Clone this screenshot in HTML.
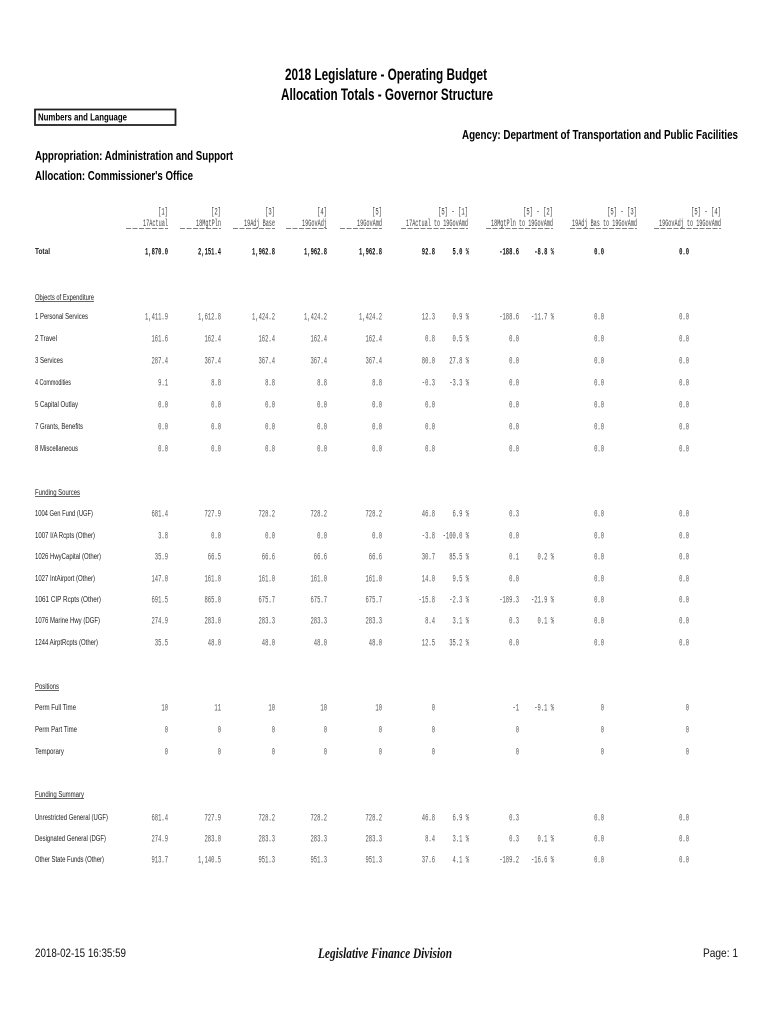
<!DOCTYPE html>
<html>
<head>
<meta charset="utf-8">
<style>
html,body{margin:0;padding:0;background:#fff;}
svg{display:block;}
.t{font-family:"Liberation Sans",sans-serif;font-weight:bold;fill:#000;}
.lab{font-family:"Liberation Sans",sans-serif;font-size:8px;fill:#222;}
.v{font-family:"Liberation Mono",monospace;font-size:10px;fill:#555;}
.vt{font-family:"Liberation Mono",monospace;font-size:10px;fill:#111;font-weight:bold;}
.h{font-family:"Liberation Mono",monospace;font-size:10px;fill:#444;}
</style>
</head>
<body>
<svg width="770" height="1024" viewBox="0 0 770 1024" xmlns="http://www.w3.org/2000/svg">
<rect width="770" height="1024" fill="#fff"/>

<!-- Titles -->
<text class="t" x="285" y="80" font-size="16.5" textLength="202" lengthAdjust="spacingAndGlyphs">2018 Legislature - Operating Budget</text>
<text class="t" x="281" y="100" font-size="16.5" textLength="212" lengthAdjust="spacingAndGlyphs">Allocation Totals - Governor Structure</text>

<rect x="35" y="109.5" width="140.5" height="15.5" fill="none" stroke="#222" stroke-width="1.8"/>
<text class="t" x="38" y="120.5" font-size="10" textLength="89" lengthAdjust="spacingAndGlyphs">Numbers and Language</text>

<text class="t" x="738" y="139" font-size="12.5" text-anchor="end" textLength="276" lengthAdjust="spacingAndGlyphs">Agency: Department of Transportation and Public Facilities</text>

<text class="t" x="35" y="160" font-size="13" textLength="198" lengthAdjust="spacingAndGlyphs">Appropriation: Administration and Support</text>
<text class="t" x="35" y="180" font-size="13" textLength="158" lengthAdjust="spacingAndGlyphs">Allocation: Commissioner's Office</text>

<!-- Column headers -->
<g text-anchor="end">
<text class="h" x="168" y="214.5" textLength="10" lengthAdjust="spacingAndGlyphs">[1]</text>
<text class="h" x="221" y="214.5" textLength="10" lengthAdjust="spacingAndGlyphs">[2]</text>
<text class="h" x="275" y="214.5" textLength="10" lengthAdjust="spacingAndGlyphs">[3]</text>
<text class="h" x="327" y="214.5" textLength="10" lengthAdjust="spacingAndGlyphs">[4]</text>
<text class="h" x="382" y="214.5" textLength="10" lengthAdjust="spacingAndGlyphs">[5]</text>
<text class="h" x="468" y="214.5" textLength="30" lengthAdjust="spacingAndGlyphs">[5] - [1]</text>
<text class="h" x="553" y="214.5" textLength="30" lengthAdjust="spacingAndGlyphs">[5] - [2]</text>
<text class="h" x="637" y="214.5" textLength="30" lengthAdjust="spacingAndGlyphs">[5] - [3]</text>
<text class="h" x="721" y="214.5" textLength="30" lengthAdjust="spacingAndGlyphs">[5] - [4]</text>

<text class="h" x="168" y="226" textLength="25" lengthAdjust="spacingAndGlyphs">17Actual</text>
<text class="h" x="221" y="226" textLength="25" lengthAdjust="spacingAndGlyphs">18MgtPln</text>
<text class="h" x="275" y="226" textLength="31" lengthAdjust="spacingAndGlyphs">19Adj Base</text>
<text class="h" x="327" y="226" textLength="25" lengthAdjust="spacingAndGlyphs">19GovAdj</text>
<text class="h" x="382" y="226" textLength="25" lengthAdjust="spacingAndGlyphs">19GovAmd</text>
<text class="h" x="468" y="226" textLength="62" lengthAdjust="spacingAndGlyphs">17Actual to 19GovAmd</text>
<text class="h" x="553" y="226" textLength="62" lengthAdjust="spacingAndGlyphs">18MgtPln to 19GovAmd</text>
<text class="h" x="637" y="226" textLength="65" lengthAdjust="spacingAndGlyphs">19Adj Bas to 19GovAmd</text>
<text class="h" x="721" y="226" textLength="62" lengthAdjust="spacingAndGlyphs">19GovAdj to 19GovAmd</text>
</g>
<g stroke="#555" stroke-width="0.8" stroke-dasharray="5 1.5">
<line x1="126" y1="228.5" x2="168" y2="228.5"/>
<line x1="180" y1="228.5" x2="221" y2="228.5"/>
<line x1="233" y1="228.5" x2="275" y2="228.5"/>
<line x1="286" y1="228.5" x2="327" y2="228.5"/>
<line x1="340" y1="228.5" x2="382" y2="228.5"/>
<line x1="401" y1="228.5" x2="468" y2="228.5"/>
<line x1="486" y1="228.5" x2="553" y2="228.5"/>
<line x1="570" y1="228.5" x2="637" y2="228.5"/>
<line x1="654" y1="228.5" x2="721" y2="228.5"/>
</g>

<!-- Total row -->
<text class="lab" x="35" y="254" font-weight="bold" textLength="15" lengthAdjust="spacingAndGlyphs">Total</text>
<g text-anchor="end">
<text class="vt" x="168" y="254.5" textLength="23" lengthAdjust="spacingAndGlyphs">1,870.0</text>
<text class="vt" x="221" y="254.5" textLength="23" lengthAdjust="spacingAndGlyphs">2,151.4</text>
<text class="vt" x="275" y="254.5" textLength="23" lengthAdjust="spacingAndGlyphs">1,962.8</text>
<text class="vt" x="327" y="254.5" textLength="23" lengthAdjust="spacingAndGlyphs">1,962.8</text>
<text class="vt" x="382" y="254.5" textLength="23" lengthAdjust="spacingAndGlyphs">1,962.8</text>
<text class="vt" x="435" y="254.5" textLength="13.2" lengthAdjust="spacingAndGlyphs">92.8</text>
<text class="vt" x="469" y="254.5" textLength="16.5" lengthAdjust="spacingAndGlyphs">5.0 %</text>
<text class="vt" x="519" y="254.5" textLength="19.8" lengthAdjust="spacingAndGlyphs">-188.6</text>
<text class="vt" x="554" y="254.5" textLength="19.8" lengthAdjust="spacingAndGlyphs">-8.8 %</text>
<text class="vt" x="604" y="254.5" textLength="9.9" lengthAdjust="spacingAndGlyphs">0.0</text>
<text class="vt" x="689" y="254.5" textLength="9.9" lengthAdjust="spacingAndGlyphs">0.0</text>
</g>

<!-- Objects of Expenditure -->
<text class="lab" x="35" y="300" textLength="59" lengthAdjust="spacingAndGlyphs">Objects of Expenditure</text>
<line x1="35" y1="301.5" x2="94" y2="301.5" stroke="#333" stroke-width="0.7"/>

<text class="lab" x="35" y="319" textLength="53" lengthAdjust="spacingAndGlyphs">1 Personal Services</text>
<text class="lab" x="35" y="341" textLength="22" lengthAdjust="spacingAndGlyphs">2 Travel</text>
<text class="lab" x="35" y="363" textLength="28" lengthAdjust="spacingAndGlyphs">3 Services</text>
<text class="lab" x="35" y="385" textLength="36" lengthAdjust="spacingAndGlyphs">4 Commodities</text>
<text class="lab" x="35" y="407" textLength="43" lengthAdjust="spacingAndGlyphs">5 Capital Outlay</text>
<text class="lab" x="35" y="429" textLength="48" lengthAdjust="spacingAndGlyphs">7 Grants, Benefits</text>
<text class="lab" x="35" y="451" textLength="43" lengthAdjust="spacingAndGlyphs">8 Miscellaneous</text>

<g text-anchor="end">
<!-- Personal Services y=319.5 -->
<text class="v" x="168" y="319.5" textLength="23" lengthAdjust="spacingAndGlyphs">1,411.9</text>
<text class="v" x="221" y="319.5" textLength="23" lengthAdjust="spacingAndGlyphs">1,612.8</text>
<text class="v" x="275" y="319.5" textLength="23" lengthAdjust="spacingAndGlyphs">1,424.2</text>
<text class="v" x="327" y="319.5" textLength="23" lengthAdjust="spacingAndGlyphs">1,424.2</text>
<text class="v" x="382" y="319.5" textLength="23" lengthAdjust="spacingAndGlyphs">1,424.2</text>
<text class="v" x="435" y="319.5" textLength="13.2" lengthAdjust="spacingAndGlyphs">12.3</text>
<text class="v" x="469" y="319.5" textLength="16.5" lengthAdjust="spacingAndGlyphs">0.9 %</text>
<text class="v" x="519" y="319.5" textLength="19.8" lengthAdjust="spacingAndGlyphs">-188.6</text>
<text class="v" x="554" y="319.5" textLength="23" lengthAdjust="spacingAndGlyphs">-11.7 %</text>
<text class="v" x="604" y="319.5" textLength="9.9" lengthAdjust="spacingAndGlyphs">0.0</text>
<text class="v" x="689" y="319.5" textLength="9.9" lengthAdjust="spacingAndGlyphs">0.0</text>
<!-- Travel y=341.5 -->
<text class="v" x="168" y="341.5" textLength="16.5" lengthAdjust="spacingAndGlyphs">161.6</text>
<text class="v" x="221" y="341.5" textLength="16.5" lengthAdjust="spacingAndGlyphs">162.4</text>
<text class="v" x="275" y="341.5" textLength="16.5" lengthAdjust="spacingAndGlyphs">162.4</text>
<text class="v" x="327" y="341.5" textLength="16.5" lengthAdjust="spacingAndGlyphs">162.4</text>
<text class="v" x="382" y="341.5" textLength="16.5" lengthAdjust="spacingAndGlyphs">162.4</text>
<text class="v" x="435" y="341.5" textLength="9.9" lengthAdjust="spacingAndGlyphs">0.8</text>
<text class="v" x="469" y="341.5" textLength="16.5" lengthAdjust="spacingAndGlyphs">0.5 %</text>
<text class="v" x="519" y="341.5" textLength="9.9" lengthAdjust="spacingAndGlyphs">0.0</text>
<text class="v" x="604" y="341.5" textLength="9.9" lengthAdjust="spacingAndGlyphs">0.0</text>
<text class="v" x="689" y="341.5" textLength="9.9" lengthAdjust="spacingAndGlyphs">0.0</text>
<!-- Services y=363.5 -->
<text class="v" x="168" y="363.5" textLength="16.5" lengthAdjust="spacingAndGlyphs">287.4</text>
<text class="v" x="221" y="363.5" textLength="16.5" lengthAdjust="spacingAndGlyphs">367.4</text>
<text class="v" x="275" y="363.5" textLength="16.5" lengthAdjust="spacingAndGlyphs">367.4</text>
<text class="v" x="327" y="363.5" textLength="16.5" lengthAdjust="spacingAndGlyphs">367.4</text>
<text class="v" x="382" y="363.5" textLength="16.5" lengthAdjust="spacingAndGlyphs">367.4</text>
<text class="v" x="435" y="363.5" textLength="13.2" lengthAdjust="spacingAndGlyphs">80.0</text>
<text class="v" x="469" y="363.5" textLength="19.8" lengthAdjust="spacingAndGlyphs">27.8 %</text>
<text class="v" x="519" y="363.5" textLength="9.9" lengthAdjust="spacingAndGlyphs">0.0</text>
<text class="v" x="604" y="363.5" textLength="9.9" lengthAdjust="spacingAndGlyphs">0.0</text>
<text class="v" x="689" y="363.5" textLength="9.9" lengthAdjust="spacingAndGlyphs">0.0</text>
<!-- Commodities y=385.5 -->
<text class="v" x="168" y="385.5" textLength="9.9" lengthAdjust="spacingAndGlyphs">9.1</text>
<text class="v" x="221" y="385.5" textLength="9.9" lengthAdjust="spacingAndGlyphs">8.8</text>
<text class="v" x="275" y="385.5" textLength="9.9" lengthAdjust="spacingAndGlyphs">8.8</text>
<text class="v" x="327" y="385.5" textLength="9.9" lengthAdjust="spacingAndGlyphs">8.8</text>
<text class="v" x="382" y="385.5" textLength="9.9" lengthAdjust="spacingAndGlyphs">8.8</text>
<text class="v" x="435" y="385.5" textLength="13.2" lengthAdjust="spacingAndGlyphs">-0.3</text>
<text class="v" x="469" y="385.5" textLength="19.8" lengthAdjust="spacingAndGlyphs">-3.3 %</text>
<text class="v" x="519" y="385.5" textLength="9.9" lengthAdjust="spacingAndGlyphs">0.0</text>
<text class="v" x="604" y="385.5" textLength="9.9" lengthAdjust="spacingAndGlyphs">0.0</text>
<text class="v" x="689" y="385.5" textLength="9.9" lengthAdjust="spacingAndGlyphs">0.0</text>
<!-- Capital Outlay y=407.5 -->
<text class="v" x="168" y="407.5" textLength="9.9" lengthAdjust="spacingAndGlyphs">0.0</text>
<text class="v" x="221" y="407.5" textLength="9.9" lengthAdjust="spacingAndGlyphs">0.0</text>
<text class="v" x="275" y="407.5" textLength="9.9" lengthAdjust="spacingAndGlyphs">0.0</text>
<text class="v" x="327" y="407.5" textLength="9.9" lengthAdjust="spacingAndGlyphs">0.0</text>
<text class="v" x="382" y="407.5" textLength="9.9" lengthAdjust="spacingAndGlyphs">0.0</text>
<text class="v" x="435" y="407.5" textLength="9.9" lengthAdjust="spacingAndGlyphs">0.0</text>
<text class="v" x="519" y="407.5" textLength="9.9" lengthAdjust="spacingAndGlyphs">0.0</text>
<text class="v" x="604" y="407.5" textLength="9.9" lengthAdjust="spacingAndGlyphs">0.0</text>
<text class="v" x="689" y="407.5" textLength="9.9" lengthAdjust="spacingAndGlyphs">0.0</text>
<!-- Grants y=429.5 -->
<text class="v" x="168" y="429.5" textLength="9.9" lengthAdjust="spacingAndGlyphs">0.0</text>
<text class="v" x="221" y="429.5" textLength="9.9" lengthAdjust="spacingAndGlyphs">0.0</text>
<text class="v" x="275" y="429.5" textLength="9.9" lengthAdjust="spacingAndGlyphs">0.0</text>
<text class="v" x="327" y="429.5" textLength="9.9" lengthAdjust="spacingAndGlyphs">0.0</text>
<text class="v" x="382" y="429.5" textLength="9.9" lengthAdjust="spacingAndGlyphs">0.0</text>
<text class="v" x="435" y="429.5" textLength="9.9" lengthAdjust="spacingAndGlyphs">0.0</text>
<text class="v" x="519" y="429.5" textLength="9.9" lengthAdjust="spacingAndGlyphs">0.0</text>
<text class="v" x="604" y="429.5" textLength="9.9" lengthAdjust="spacingAndGlyphs">0.0</text>
<text class="v" x="689" y="429.5" textLength="9.9" lengthAdjust="spacingAndGlyphs">0.0</text>
<!-- Misc y=451.5 -->
<text class="v" x="168" y="451.5" textLength="9.9" lengthAdjust="spacingAndGlyphs">0.0</text>
<text class="v" x="221" y="451.5" textLength="9.9" lengthAdjust="spacingAndGlyphs">0.0</text>
<text class="v" x="275" y="451.5" textLength="9.9" lengthAdjust="spacingAndGlyphs">0.0</text>
<text class="v" x="327" y="451.5" textLength="9.9" lengthAdjust="spacingAndGlyphs">0.0</text>
<text class="v" x="382" y="451.5" textLength="9.9" lengthAdjust="spacingAndGlyphs">0.0</text>
<text class="v" x="435" y="451.5" textLength="9.9" lengthAdjust="spacingAndGlyphs">0.0</text>
<text class="v" x="519" y="451.5" textLength="9.9" lengthAdjust="spacingAndGlyphs">0.0</text>
<text class="v" x="604" y="451.5" textLength="9.9" lengthAdjust="spacingAndGlyphs">0.0</text>
<text class="v" x="689" y="451.5" textLength="9.9" lengthAdjust="spacingAndGlyphs">0.0</text>
</g>

<!-- Funding Sources -->
<text class="lab" x="35" y="495" textLength="45" lengthAdjust="spacingAndGlyphs">Funding Sources</text>
<line x1="35" y1="496.5" x2="80" y2="496.5" stroke="#333" stroke-width="0.7"/>

<text class="lab" x="35" y="516" textLength="58" lengthAdjust="spacingAndGlyphs">1004 Gen Fund (UGF)</text>
<text class="lab" x="35" y="538" textLength="60" lengthAdjust="spacingAndGlyphs">1007 I/A Rcpts (Other)</text>
<text class="lab" x="35" y="559" textLength="66" lengthAdjust="spacingAndGlyphs">1026 HwyCapital (Other)</text>
<text class="lab" x="35" y="581" textLength="60" lengthAdjust="spacingAndGlyphs">1027 IntAirport (Other)</text>
<text class="lab" x="35" y="602" textLength="66" lengthAdjust="spacingAndGlyphs">1061 CIP Rcpts (Other)</text>
<text class="lab" x="35" y="623" textLength="65" lengthAdjust="spacingAndGlyphs">1076 Marine Hwy (DGF)</text>
<text class="lab" x="35" y="645" textLength="63" lengthAdjust="spacingAndGlyphs">1244 AirptRcpts (Other)</text>

<g text-anchor="end">
<!-- 1004 y=516.5 -->
<text class="v" x="168" y="516.5" textLength="16.5" lengthAdjust="spacingAndGlyphs">681.4</text>
<text class="v" x="221" y="516.5" textLength="16.5" lengthAdjust="spacingAndGlyphs">727.9</text>
<text class="v" x="275" y="516.5" textLength="16.5" lengthAdjust="spacingAndGlyphs">728.2</text>
<text class="v" x="327" y="516.5" textLength="16.5" lengthAdjust="spacingAndGlyphs">728.2</text>
<text class="v" x="382" y="516.5" textLength="16.5" lengthAdjust="spacingAndGlyphs">728.2</text>
<text class="v" x="435" y="516.5" textLength="13.2" lengthAdjust="spacingAndGlyphs">46.8</text>
<text class="v" x="469" y="516.5" textLength="16.5" lengthAdjust="spacingAndGlyphs">6.9 %</text>
<text class="v" x="519" y="516.5" textLength="9.9" lengthAdjust="spacingAndGlyphs">0.3</text>
<text class="v" x="604" y="516.5" textLength="9.9" lengthAdjust="spacingAndGlyphs">0.0</text>
<text class="v" x="689" y="516.5" textLength="9.9" lengthAdjust="spacingAndGlyphs">0.0</text>
<!-- 1007 y=538.5 -->
<text class="v" x="168" y="538.5" textLength="9.9" lengthAdjust="spacingAndGlyphs">3.8</text>
<text class="v" x="221" y="538.5" textLength="9.9" lengthAdjust="spacingAndGlyphs">0.0</text>
<text class="v" x="275" y="538.5" textLength="9.9" lengthAdjust="spacingAndGlyphs">0.0</text>
<text class="v" x="327" y="538.5" textLength="9.9" lengthAdjust="spacingAndGlyphs">0.0</text>
<text class="v" x="382" y="538.5" textLength="9.9" lengthAdjust="spacingAndGlyphs">0.0</text>
<text class="v" x="435" y="538.5" textLength="13.2" lengthAdjust="spacingAndGlyphs">-3.8</text>
<text class="v" x="469" y="538.5" textLength="26.4" lengthAdjust="spacingAndGlyphs">-100.0 %</text>
<text class="v" x="519" y="538.5" textLength="9.9" lengthAdjust="spacingAndGlyphs">0.0</text>
<text class="v" x="604" y="538.5" textLength="9.9" lengthAdjust="spacingAndGlyphs">0.0</text>
<text class="v" x="689" y="538.5" textLength="9.9" lengthAdjust="spacingAndGlyphs">0.0</text>
<!-- 1026 y=559.5 -->
<text class="v" x="168" y="559.5" textLength="13.2" lengthAdjust="spacingAndGlyphs">35.9</text>
<text class="v" x="221" y="559.5" textLength="13.2" lengthAdjust="spacingAndGlyphs">66.5</text>
<text class="v" x="275" y="559.5" textLength="13.2" lengthAdjust="spacingAndGlyphs">66.6</text>
<text class="v" x="327" y="559.5" textLength="13.2" lengthAdjust="spacingAndGlyphs">66.6</text>
<text class="v" x="382" y="559.5" textLength="13.2" lengthAdjust="spacingAndGlyphs">66.6</text>
<text class="v" x="435" y="559.5" textLength="13.2" lengthAdjust="spacingAndGlyphs">30.7</text>
<text class="v" x="469" y="559.5" textLength="19.8" lengthAdjust="spacingAndGlyphs">85.5 %</text>
<text class="v" x="519" y="559.5" textLength="9.9" lengthAdjust="spacingAndGlyphs">0.1</text>
<text class="v" x="554" y="559.5" textLength="16.5" lengthAdjust="spacingAndGlyphs">0.2 %</text>
<text class="v" x="604" y="559.5" textLength="9.9" lengthAdjust="spacingAndGlyphs">0.0</text>
<text class="v" x="689" y="559.5" textLength="9.9" lengthAdjust="spacingAndGlyphs">0.0</text>
<!-- 1027 y=581.5 -->
<text class="v" x="168" y="581.5" textLength="16.5" lengthAdjust="spacingAndGlyphs">147.0</text>
<text class="v" x="221" y="581.5" textLength="16.5" lengthAdjust="spacingAndGlyphs">161.0</text>
<text class="v" x="275" y="581.5" textLength="16.5" lengthAdjust="spacingAndGlyphs">161.0</text>
<text class="v" x="327" y="581.5" textLength="16.5" lengthAdjust="spacingAndGlyphs">161.0</text>
<text class="v" x="382" y="581.5" textLength="16.5" lengthAdjust="spacingAndGlyphs">161.0</text>
<text class="v" x="435" y="581.5" textLength="13.2" lengthAdjust="spacingAndGlyphs">14.0</text>
<text class="v" x="469" y="581.5" textLength="16.5" lengthAdjust="spacingAndGlyphs">9.5 %</text>
<text class="v" x="519" y="581.5" textLength="9.9" lengthAdjust="spacingAndGlyphs">0.0</text>
<text class="v" x="604" y="581.5" textLength="9.9" lengthAdjust="spacingAndGlyphs">0.0</text>
<text class="v" x="689" y="581.5" textLength="9.9" lengthAdjust="spacingAndGlyphs">0.0</text>
<!-- 1061 y=602.5 -->
<text class="v" x="168" y="602.5" textLength="16.5" lengthAdjust="spacingAndGlyphs">691.5</text>
<text class="v" x="221" y="602.5" textLength="16.5" lengthAdjust="spacingAndGlyphs">865.0</text>
<text class="v" x="275" y="602.5" textLength="16.5" lengthAdjust="spacingAndGlyphs">675.7</text>
<text class="v" x="327" y="602.5" textLength="16.5" lengthAdjust="spacingAndGlyphs">675.7</text>
<text class="v" x="382" y="602.5" textLength="16.5" lengthAdjust="spacingAndGlyphs">675.7</text>
<text class="v" x="435" y="602.5" textLength="16.5" lengthAdjust="spacingAndGlyphs">-15.8</text>
<text class="v" x="469" y="602.5" textLength="19.8" lengthAdjust="spacingAndGlyphs">-2.3 %</text>
<text class="v" x="519" y="602.5" textLength="19.8" lengthAdjust="spacingAndGlyphs">-189.3</text>
<text class="v" x="554" y="602.5" textLength="23" lengthAdjust="spacingAndGlyphs">-21.9 %</text>
<text class="v" x="604" y="602.5" textLength="9.9" lengthAdjust="spacingAndGlyphs">0.0</text>
<text class="v" x="689" y="602.5" textLength="9.9" lengthAdjust="spacingAndGlyphs">0.0</text>
<!-- 1076 y=623.5 -->
<text class="v" x="168" y="623.5" textLength="16.5" lengthAdjust="spacingAndGlyphs">274.9</text>
<text class="v" x="221" y="623.5" textLength="16.5" lengthAdjust="spacingAndGlyphs">283.0</text>
<text class="v" x="275" y="623.5" textLength="16.5" lengthAdjust="spacingAndGlyphs">283.3</text>
<text class="v" x="327" y="623.5" textLength="16.5" lengthAdjust="spacingAndGlyphs">283.3</text>
<text class="v" x="382" y="623.5" textLength="16.5" lengthAdjust="spacingAndGlyphs">283.3</text>
<text class="v" x="435" y="623.5" textLength="9.9" lengthAdjust="spacingAndGlyphs">8.4</text>
<text class="v" x="469" y="623.5" textLength="16.5" lengthAdjust="spacingAndGlyphs">3.1 %</text>
<text class="v" x="519" y="623.5" textLength="9.9" lengthAdjust="spacingAndGlyphs">0.3</text>
<text class="v" x="554" y="623.5" textLength="16.5" lengthAdjust="spacingAndGlyphs">0.1 %</text>
<text class="v" x="604" y="623.5" textLength="9.9" lengthAdjust="spacingAndGlyphs">0.0</text>
<text class="v" x="689" y="623.5" textLength="9.9" lengthAdjust="spacingAndGlyphs">0.0</text>
<!-- 1244 y=645.5 -->
<text class="v" x="168" y="645.5" textLength="13.2" lengthAdjust="spacingAndGlyphs">35.5</text>
<text class="v" x="221" y="645.5" textLength="13.2" lengthAdjust="spacingAndGlyphs">48.0</text>
<text class="v" x="275" y="645.5" textLength="13.2" lengthAdjust="spacingAndGlyphs">48.0</text>
<text class="v" x="327" y="645.5" textLength="13.2" lengthAdjust="spacingAndGlyphs">48.0</text>
<text class="v" x="382" y="645.5" textLength="13.2" lengthAdjust="spacingAndGlyphs">48.0</text>
<text class="v" x="435" y="645.5" textLength="13.2" lengthAdjust="spacingAndGlyphs">12.5</text>
<text class="v" x="469" y="645.5" textLength="19.8" lengthAdjust="spacingAndGlyphs">35.2 %</text>
<text class="v" x="519" y="645.5" textLength="9.9" lengthAdjust="spacingAndGlyphs">0.0</text>
<text class="v" x="604" y="645.5" textLength="9.9" lengthAdjust="spacingAndGlyphs">0.0</text>
<text class="v" x="689" y="645.5" textLength="9.9" lengthAdjust="spacingAndGlyphs">0.0</text>
</g>

<!-- Positions -->
<text class="lab" x="35" y="689" textLength="24" lengthAdjust="spacingAndGlyphs">Positions</text>
<line x1="35" y1="690.5" x2="59" y2="690.5" stroke="#333" stroke-width="0.7"/>
<text class="lab" x="35" y="710" textLength="41" lengthAdjust="spacingAndGlyphs">Perm Full Time</text>
<text class="lab" x="35" y="732" textLength="42" lengthAdjust="spacingAndGlyphs">Perm Part Time</text>
<text class="lab" x="35" y="754" textLength="29" lengthAdjust="spacingAndGlyphs">Temporary</text>

<g text-anchor="end">
<text class="v" x="168" y="710.5" textLength="6.6" lengthAdjust="spacingAndGlyphs">10</text>
<text class="v" x="221" y="710.5" textLength="6.6" lengthAdjust="spacingAndGlyphs">11</text>
<text class="v" x="275" y="710.5" textLength="6.6" lengthAdjust="spacingAndGlyphs">10</text>
<text class="v" x="327" y="710.5" textLength="6.6" lengthAdjust="spacingAndGlyphs">10</text>
<text class="v" x="382" y="710.5" textLength="6.6" lengthAdjust="spacingAndGlyphs">10</text>
<text class="v" x="435" y="710.5" textLength="3.3" lengthAdjust="spacingAndGlyphs">0</text>
<text class="v" x="519" y="710.5" textLength="6.6" lengthAdjust="spacingAndGlyphs">-1</text>
<text class="v" x="554" y="710.5" textLength="19.8" lengthAdjust="spacingAndGlyphs">-9.1 %</text>
<text class="v" x="604" y="710.5" textLength="3.3" lengthAdjust="spacingAndGlyphs">0</text>
<text class="v" x="689" y="710.5" textLength="3.3" lengthAdjust="spacingAndGlyphs">0</text>

<text class="v" x="168" y="732.5" textLength="3.3" lengthAdjust="spacingAndGlyphs">0</text>
<text class="v" x="221" y="732.5" textLength="3.3" lengthAdjust="spacingAndGlyphs">0</text>
<text class="v" x="275" y="732.5" textLength="3.3" lengthAdjust="spacingAndGlyphs">0</text>
<text class="v" x="327" y="732.5" textLength="3.3" lengthAdjust="spacingAndGlyphs">0</text>
<text class="v" x="382" y="732.5" textLength="3.3" lengthAdjust="spacingAndGlyphs">0</text>
<text class="v" x="435" y="732.5" textLength="3.3" lengthAdjust="spacingAndGlyphs">0</text>
<text class="v" x="519" y="732.5" textLength="3.3" lengthAdjust="spacingAndGlyphs">0</text>
<text class="v" x="604" y="732.5" textLength="3.3" lengthAdjust="spacingAndGlyphs">0</text>
<text class="v" x="689" y="732.5" textLength="3.3" lengthAdjust="spacingAndGlyphs">0</text>

<text class="v" x="168" y="754.5" textLength="3.3" lengthAdjust="spacingAndGlyphs">0</text>
<text class="v" x="221" y="754.5" textLength="3.3" lengthAdjust="spacingAndGlyphs">0</text>
<text class="v" x="275" y="754.5" textLength="3.3" lengthAdjust="spacingAndGlyphs">0</text>
<text class="v" x="327" y="754.5" textLength="3.3" lengthAdjust="spacingAndGlyphs">0</text>
<text class="v" x="382" y="754.5" textLength="3.3" lengthAdjust="spacingAndGlyphs">0</text>
<text class="v" x="435" y="754.5" textLength="3.3" lengthAdjust="spacingAndGlyphs">0</text>
<text class="v" x="519" y="754.5" textLength="3.3" lengthAdjust="spacingAndGlyphs">0</text>
<text class="v" x="604" y="754.5" textLength="3.3" lengthAdjust="spacingAndGlyphs">0</text>
<text class="v" x="689" y="754.5" textLength="3.3" lengthAdjust="spacingAndGlyphs">0</text>
</g>

<!-- Funding Summary -->
<text class="lab" x="35" y="797" textLength="49" lengthAdjust="spacingAndGlyphs">Funding Summary</text>
<line x1="35" y1="798.5" x2="84" y2="798.5" stroke="#333" stroke-width="0.7"/>
<text class="lab" x="35" y="820" textLength="73" lengthAdjust="spacingAndGlyphs">Unrestricted General (UGF)</text>
<text class="lab" x="35" y="841" textLength="71" lengthAdjust="spacingAndGlyphs">Designated General (DGF)</text>
<text class="lab" x="35" y="862" textLength="69" lengthAdjust="spacingAndGlyphs">Other State Funds (Other)</text>

<g text-anchor="end">
<text class="v" x="168" y="820.5" textLength="16.5" lengthAdjust="spacingAndGlyphs">681.4</text>
<text class="v" x="221" y="820.5" textLength="16.5" lengthAdjust="spacingAndGlyphs">727.9</text>
<text class="v" x="275" y="820.5" textLength="16.5" lengthAdjust="spacingAndGlyphs">728.2</text>
<text class="v" x="327" y="820.5" textLength="16.5" lengthAdjust="spacingAndGlyphs">728.2</text>
<text class="v" x="382" y="820.5" textLength="16.5" lengthAdjust="spacingAndGlyphs">728.2</text>
<text class="v" x="435" y="820.5" textLength="13.2" lengthAdjust="spacingAndGlyphs">46.8</text>
<text class="v" x="469" y="820.5" textLength="16.5" lengthAdjust="spacingAndGlyphs">6.9 %</text>
<text class="v" x="519" y="820.5" textLength="9.9" lengthAdjust="spacingAndGlyphs">0.3</text>
<text class="v" x="604" y="820.5" textLength="9.9" lengthAdjust="spacingAndGlyphs">0.0</text>
<text class="v" x="689" y="820.5" textLength="9.9" lengthAdjust="spacingAndGlyphs">0.0</text>

<text class="v" x="168" y="841.5" textLength="16.5" lengthAdjust="spacingAndGlyphs">274.9</text>
<text class="v" x="221" y="841.5" textLength="16.5" lengthAdjust="spacingAndGlyphs">283.0</text>
<text class="v" x="275" y="841.5" textLength="16.5" lengthAdjust="spacingAndGlyphs">283.3</text>
<text class="v" x="327" y="841.5" textLength="16.5" lengthAdjust="spacingAndGlyphs">283.3</text>
<text class="v" x="382" y="841.5" textLength="16.5" lengthAdjust="spacingAndGlyphs">283.3</text>
<text class="v" x="435" y="841.5" textLength="9.9" lengthAdjust="spacingAndGlyphs">8.4</text>
<text class="v" x="469" y="841.5" textLength="16.5" lengthAdjust="spacingAndGlyphs">3.1 %</text>
<text class="v" x="519" y="841.5" textLength="9.9" lengthAdjust="spacingAndGlyphs">0.3</text>
<text class="v" x="554" y="841.5" textLength="16.5" lengthAdjust="spacingAndGlyphs">0.1 %</text>
<text class="v" x="604" y="841.5" textLength="9.9" lengthAdjust="spacingAndGlyphs">0.0</text>
<text class="v" x="689" y="841.5" textLength="9.9" lengthAdjust="spacingAndGlyphs">0.0</text>

<text class="v" x="168" y="862.5" textLength="16.5" lengthAdjust="spacingAndGlyphs">913.7</text>
<text class="v" x="221" y="862.5" textLength="23" lengthAdjust="spacingAndGlyphs">1,140.5</text>
<text class="v" x="275" y="862.5" textLength="16.5" lengthAdjust="spacingAndGlyphs">951.3</text>
<text class="v" x="327" y="862.5" textLength="16.5" lengthAdjust="spacingAndGlyphs">951.3</text>
<text class="v" x="382" y="862.5" textLength="16.5" lengthAdjust="spacingAndGlyphs">951.3</text>
<text class="v" x="435" y="862.5" textLength="13.2" lengthAdjust="spacingAndGlyphs">37.6</text>
<text class="v" x="469" y="862.5" textLength="16.5" lengthAdjust="spacingAndGlyphs">4.1 %</text>
<text class="v" x="519" y="862.5" textLength="19.8" lengthAdjust="spacingAndGlyphs">-189.2</text>
<text class="v" x="554" y="862.5" textLength="23" lengthAdjust="spacingAndGlyphs">-16.6 %</text>
<text class="v" x="604" y="862.5" textLength="9.9" lengthAdjust="spacingAndGlyphs">0.0</text>
<text class="v" x="689" y="862.5" textLength="9.9" lengthAdjust="spacingAndGlyphs">0.0</text>
</g>

<!-- Footer -->
<text x="35" y="957" font-family="Liberation Sans, sans-serif" font-size="12" fill="#111" textLength="91" lengthAdjust="spacingAndGlyphs">2018-02-15 16:35:59</text>
<text x="318" y="958" font-family="Liberation Serif, serif" font-style="italic" font-weight="bold" font-size="15" fill="#111" textLength="134" lengthAdjust="spacingAndGlyphs">Legislative Finance Division</text>
<text x="738" y="957" text-anchor="end" font-family="Liberation Sans, sans-serif" font-size="12" fill="#111" textLength="35" lengthAdjust="spacingAndGlyphs">Page: 1</text>
</svg>
</body>
</html>
